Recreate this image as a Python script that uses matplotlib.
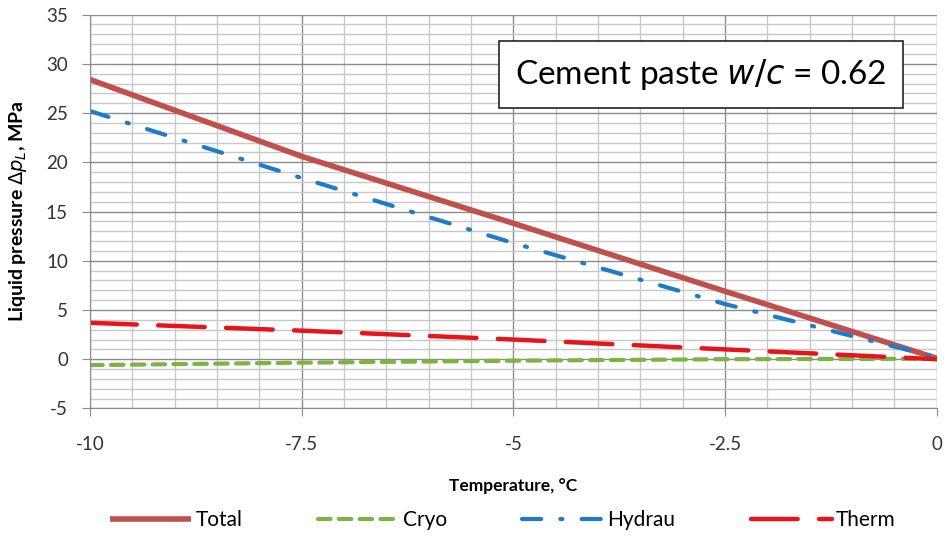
import numpy as np
import matplotlib.pyplot as plt
from matplotlib.ticker import MultipleLocator

plt.rcParams['font.family'] = ['Lato', 'DejaVu Sans']
plt.rcParams['axes.unicode_minus'] = False

temp = [-10, -7.5, -5, -2.5, 0]
total = [28.4, 20.6, 13.8, 6.9, 0.1]
cryo = [-0.6, -0.35, -0.15, 0.0, 0.05]
hydrau = [25.2, 18.4, 11.8, 5.6, 0.2]
therm = [3.7, 2.9, 2.0, 1.0, 0.0]
tick_text = ['-10', '-7.5', '-5', '-2.5', '0']

fig = plt.figure(figsize=(9.49, 5.41), dpi=100)
ax = fig.add_axes([0.095, 0.245, 0.892, 0.728])

ax.plot(temp, total, color='#C0504D', lw=4.0, label='Total', solid_capstyle='butt')
ax.plot(temp, cryo, color='#7CB342', lw=3.0, linestyle=(0, (3.0, 2.0)), label='Cryo',
        dash_capstyle='round')
ax.plot(temp, hydrau, color='#1F7BC8', lw=3.0, linestyle=(0, (4.6, 4.6, 0.5, 4.6)),
        label='Hydrau', dash_capstyle='round')
ax.plot(temp, therm, color='#E8141C', lw=3.2, linestyle=(0, (10.5, 4.8)), label='Therm',
        dash_capstyle='round')

ax.set_xlim(-10, 0)
ax.set_ylim(-5, 35)
ax.xaxis.set_minor_locator(MultipleLocator(0.5))
ax.yaxis.set_major_locator(MultipleLocator(5))
ax.yaxis.set_minor_locator(MultipleLocator(1))
ax.set_xticks(temp)
ax.set_xticklabels(tick_text)
ax.grid(which='minor', color='#C8C8C8', lw=1.0)
ax.grid(which='major', color='#8C8C8C', lw=1.0)
ax.set_axisbelow(True)
ax.tick_params(which='major', direction='out', length=6, color='#8C8C8C',
               labelsize=13.5, labelcolor='#333333')
ax.tick_params(axis='x', pad=14)
ax.tick_params(axis='y', pad=10)
ax.tick_params(which='minor', length=0)
for s in ax.spines.values():
    s.set_color('#8C8C8C')
ax.spines['top'].set_visible(False)
ax.spines['right'].set_visible(False)

ax.set_xlabel('Temperature, °C', fontsize=12.5, fontweight='bold', labelpad=18)
ax.set_ylabel(r'Liquid pressure $\Delta\mathbf{\it{p}_L}$, MPa', fontsize=14,
              fontweight='bold', labelpad=12)

ax.text(0.7385, 0.863, 'Cement paste $w/c$ = 0.62', transform=fig.transFigure,
        fontsize=24, ha='center', va='center',
        bbox=dict(boxstyle='square,pad=0.48', fc='white', ec='#222222', lw=1.2))

fig.legend(loc='lower center', bbox_to_anchor=(0.53, -0.014), ncol=4, frameon=False,
           fontsize=15, handlelength=3.9, columnspacing=3.6, handletextpad=0.2)

fig.savefig('out.png', dpi=100)
